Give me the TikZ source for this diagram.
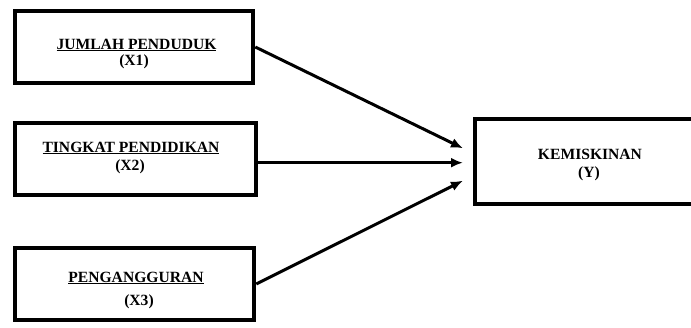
\documentclass[tikz,border=0pt]{standalone}
\usepackage{fontspec}
\setmainfont{Liberation Serif}
\usetikzlibrary{arrows.meta}
\tikzset{
  varbox/.style={draw=black, line width=4.6pt, minimum width=#1, inner sep=0pt},
  lbl/.style={anchor=base, inner sep=0pt, font=\bfseries\fontsize{15.6}{18}\selectfont},
  conn/.style={line width=3pt, -{Latex[length=12pt,width=10pt]}, shorten >=0pt}
}
\begin{document}
\begin{tikzpicture}[x=1pt,y=-1pt]
\useasboundingbox (0,0) rectangle (691,327);
\clip (0,0) rectangle (691,327);
% boxes
\node[varbox=238pt, minimum height=72pt] (b1) at (134,47) {};
\node[varbox=241pt, minimum height=72pt] (b2) at (135.5,159) {};
\node[varbox=239pt, minimum height=72pt] (b3) at (134.5,284) {};
\node[varbox=240pt, minimum height=85pt] (by) at (595,161.5) {};
% labels
\node[lbl] (l1a) at (136.5,49) {\underline{JUMLAH PENDUDUK}};
\node[lbl] (l1b) at (134,65) {(X1)};
\node[lbl] (l2a) at (131,152) {\underline{TINGKAT PENDIDIKAN}};
\node[lbl] (l2b) at (130,170) {(X2)};
\node[lbl] (l3a) at (136,282) {\underline{PENGANGGURAN}};
\node[lbl] (l3b) at (139,305) {(X3)};
\node[lbl] (lya) at (590,159) {KEMISKINAN};
\node[lbl] (lyb) at (589,177) {(Y)};
% arrow tips
\coordinate (t1) at (463,148.3);
\coordinate (t2) at (463,162.7);
\coordinate (t3) at (463,180.7);
\draw[conn] (b1.east) -- (t1);
\draw[conn] (b2.east |- t2) -- (t2);
\draw[conn] (b3.east) -- (t3);
\end{tikzpicture}
\end{document}
